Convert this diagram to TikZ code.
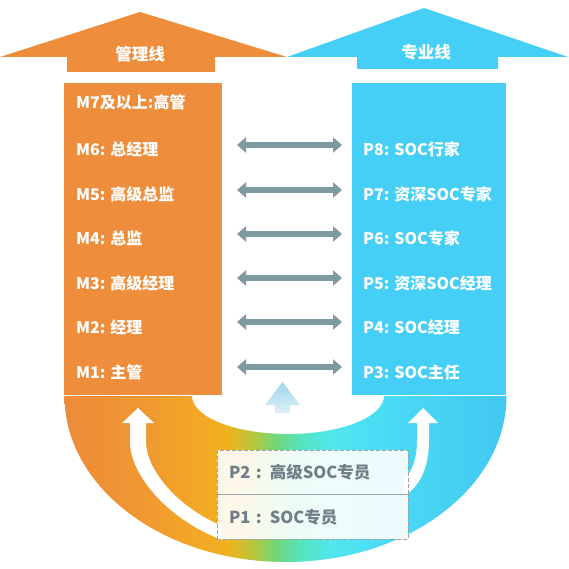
\documentclass[tikz,border=0pt]{standalone}
\usepackage{fontspec}
\setmainfont{Noto Sans CJK SC}
\usetikzlibrary{arrows.meta}
\definecolor{org}{HTML}{EE8E3D}
\definecolor{sky}{HTML}{46CFF6}
\definecolor{garr}{HTML}{7E9AA1}
\definecolor{dgray}{HTML}{9AA3A8}
\definecolor{ptext}{HTML}{6F7E87}
\definecolor{lb}{HTML}{9ED4EE}
\definecolor{g1}{HTML}{EC8A3B}
\definecolor{g2}{HTML}{F09A30}
\definecolor{g3}{HTML}{F4A825}
\definecolor{g4}{HTML}{EEB21F}
\definecolor{g5}{HTML}{B9C63A}
\definecolor{g6}{HTML}{72D777}
\definecolor{g7}{HTML}{55E3BC}
\definecolor{g8}{HTML}{52E6EE}
\definecolor{g9}{HTML}{4ADBF5}
\definecolor{g10}{HTML}{42C8F2}
\tikzset{
  lvl/.style={anchor=base west, inner sep=0pt, text=white, font=\bfseries\fontsize{16}{16}\selectfont},
  head/.style={anchor=center, inner sep=0pt, text=white, font=\bfseries\fontsize{16.5}{16.5}\selectfont},
  darr/.style={line width=6pt, draw=garr, {Triangle[length=9pt,width=15pt]}-{Triangle[length=9pt,width=15pt]}},
  pbox/.style={draw=dgray, dashed, dash pattern=on 4pt off 2pt, line width=0.9pt, fill=white, fill opacity=0.9, text opacity=1,
    minimum width=191pt, minimum height=44.5pt, text width=167pt, inner xsep=12pt, inner ysep=0pt, align=left,
    text=ptext, font=\bfseries\fontsize{16.5}{16.5}\selectfont}
}
\begin{document}
\begin{tikzpicture}[x=1pt,y=1pt]
\useasboundingbox (0,0) rectangle (569,568);
\fill[white] (0,0) rectangle (569,568);

% top arrows
\fill[org] (0,511) -- (140,556) -- (287,511) -- (215,511) -- (215,496) -- (67,496) -- (67,511) -- cycle;
\fill[sky] (287,511) -- (424,560) -- (568,511) -- (498,511) -- (498,499) -- (357,499) -- (357,511) -- cycle;
\node[head] (hm) at (140,514) {管理线};
\node[head] (hp) at (426,516) {专业线};

% columns
\fill[org] (64,173.5) rectangle (222,485);
\fill[sky] (352,173.5) rectangle (506,485);

% U shape with gradient
\begin{scope}
\clip (64.5,172) arc[start angle=180,end angle=360,x radius=221,y radius=166]
  -- (384,172) arc[start angle=0,end angle=-180,x radius=96,y radius=38] -- cycle;
\shade[left color=g1,right color=g2] (60,0) rectangle (150.5,175);
\shade[left color=g2,right color=g3] (150,0) rectangle (200.5,175);
\shade[left color=g3,right color=g4] (200,0) rectangle (228.5,175);
\shade[left color=g4,right color=g5] (228,0) rectangle (252.5,175);
\shade[left color=g5,right color=g6] (252,0) rectangle (275.5,175);
\shade[left color=g6,right color=g7] (275,0) rectangle (300.5,175);
\shade[left color=g7,right color=g8] (300,0) rectangle (330.5,175);
\shade[left color=g8,right color=g9] (330,0) rectangle (380.5,175);
\shade[left color=g9,right color=g10] (380,0) rectangle (510,175);
\end{scope}

% middle small arrow
\shade[top color=lb, bottom color=lb!35] (265,163) -- (282.5,186) -- (300,163) -- (290,163) -- (290,155) -- (275,155) -- (275,163) -- cycle;

% white curved arrows
\fill[white] (130,145) -- (130,126) .. controls (130,95) and (165,50) .. (222,28) -- (222,42)
  .. controls (175,62) and (146,100) .. (146,126) -- (146,145) -- (154,145) -- (138,160) -- (122,145) -- cycle;
\fill[white] (408,145) -- (423,160) -- (438,145) -- (429,145) -- (429,128) .. controls (429,100) and (420,82) .. (404,72)
  -- (404,88) .. controls (413,98) and (417,110) .. (417,128) -- (417,145) -- cycle;

% dashed boxes
\node[pbox] (p2) at (312.5,95.75) {P2 : 高级SOC专员};
\node[pbox] (p1) at (312.5,51.25) {P1 : SOC专员};

% level texts
\node[lvl] (m7) at (76,459) {M7及以上:高管};
\node[lvl] (m6) at (76,412) {M6: 总经理};
\node[lvl] (m5) at (76,367.6) {M5: 高级总监};
\node[lvl] (m4) at (76,323.2) {M4: 总监};
\node[lvl] (m3) at (76,278.8) {M3: 高级经理};
\node[lvl] (m2) at (76,234.4) {M2: 经理};
\node[lvl] (m1) at (76,190) {M1: 主管};
\node[lvl] (p8) at (363,412) {P8: SOC行家};
\node[lvl] (p7) at (363,367.6) {P7: 资深SOC专家};
\node[lvl] (p6) at (363,323.2) {P6: SOC专家};
\node[lvl] (p5) at (363,278.8) {P5: 资深SOC经理};
\node[lvl] (p4) at (363,234.4) {P4: SOC经理};
\node[lvl] (p3) at (363,190) {P3: SOC主任};

% double arrows
\foreach \i/\yy in {1/423,2/378,3/334,4/290,5/246,6/201}{
  \coordinate (la\i) at (237,\yy);
  \coordinate (ra\i) at (342,\yy);
  \draw[darr] (la\i) -- (ra\i);
}
\end{tikzpicture}
\end{document}
